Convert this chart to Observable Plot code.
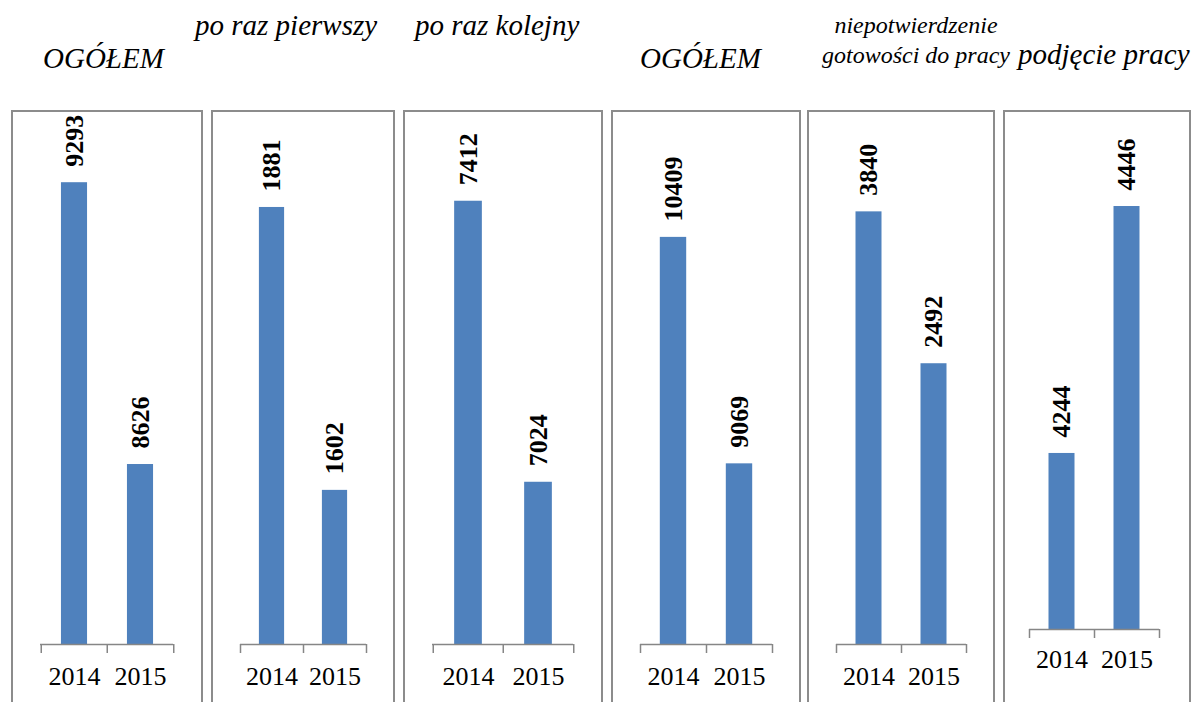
<!DOCTYPE html>
<html><head><meta charset="utf-8">
<script src="https://cdn.jsdelivr.net/npm/d3@7"></script>
<script src="https://cdn.jsdelivr.net/npm/@observablehq/plot@0.6"></script>
<style>
body{margin:0;background:#fff;width:1200px;height:702px;overflow:hidden;position:relative;font-family:'Liberation Serif',serif}
.title{position:absolute;font-style:italic;white-space:nowrap;color:#000;line-height:1;font-family:'Liberation Serif',serif}
.box{position:absolute;box-sizing:border-box;border:2px solid #8c8c8c;pointer-events:none}
</style></head><body>
<script>
// ---- data ----
const titles = ["OGÓŁEM", "po raz pierwszy", "po raz kolejny", "OGÓŁEM", "niepotwierdzenie\ngotowości do pracy", "podjęcie pracy"];
const years = ["2014", "2015"];
const values2014 = [9293, 1881, 7412, 10409, 3840, 4244];
const values2015 = [8626, 1602, 7024, 9069, 2492, 4446];
const axisMin = [8200, 1450, 6800, 8000, 0, 4100];
const axisMax = [9400, 1950, 7500, 11000, 4500, 4500];

// ---- layout ----
const boxLeft  = [11, 211, 403, 611, 807, 1003];
const boxRight = [203, 395, 603, 801, 995, 1191];
const axisLeft  = [40, 240, 432, 640, 836, 1029];
const axisRight = [173, 366, 573, 772, 966, 1159];
const plotTop  = [137, 137, 137, 137, 137, 140];
const baseline = [644, 644, 644, 644, 644, 629];
const labelPad = [22, 22, 22, 22, 22, 20];
const boxTop = 110, svgH = 600;
const serif = "'Liberation Serif', serif";

const titleSpec = [
  {left: 43, base: 68, fs: 29},
  {left: 195, base: 35, fs: 29},
  {left: 415, base: 35, fs: 29},
  {left: 640, base: 68, fs: 29},
  {center: 916, base: 33, fs: 24, lh: 30},
  {left: 1018, base: 64, fs: 29}
];

const blue = "#4F81BD", gray = "#868686";

for (let i = 0; i < 6; i++) {
  const data = years.map((y, j) => ({year: y, value: j === 0 ? values2014[i] : values2015[i]}));
  const W = boxRight[i] - boxLeft[i];
  const mL = axisLeft[i] - boxLeft[i];
  const mR = boxRight[i] - axisRight[i];
  const mT = plotTop[i] - boxTop;
  const mB = svgH - (baseline[i] - boxTop);
  const bw = (W - mL - mR) / 2;
  const ins = bw * 0.3;
  const svg = Plot.plot({
    width: W, height: svgH,
    marginLeft: mL, marginRight: mR, marginTop: mT, marginBottom: mB,
    style: {fontFamily: serif, background: "transparent", overflow: "visible", color: "#000"},
    x: {domain: years, padding: 0, axis: null, label: null},
    y: {domain: [axisMin[i], axisMax[i]], clamp: true, axis: null},
    marks: [
      Plot.barY(data, {x: "year", y: "value", fill: blue, insetLeft: ins, insetRight: ins}),
      Plot.ruleY([axisMin[i]], {stroke: gray, strokeWidth: 1.5}),
      Plot.axisX({tickSize: 9, tickFormat: () => "", dx: -bw / 2, stroke: gray, strokeWidth: 1.5}),
      Plot.axisX({ticks: [years[1]], tickSize: 9, tickFormat: () => "", dx: bw / 2, stroke: gray, strokeWidth: 1.5}),
      Plot.axisX({tickSize: 0, tickPadding: labelPad[i], fontSize: 26, fontFamily: serif, fill: "#000"}),
      Plot.text(data, {x: "year", y: "value", text: d => String(d.value), rotate: -90, textAnchor: "start", lineAnchor: "middle", dy: -16, fontSize: 26, fontFamily: serif, fontWeight: "bold", fill: "#000"})
    ]
  });
  svg.style.position = "absolute";
  svg.style.left = boxLeft[i] + "px";
  svg.style.top = boxTop + "px";
  svg.style.maxWidth = "none";
  document.body.appendChild(svg);

  const box = document.createElement("div");
  box.className = "box";
  box.style.left = boxLeft[i] + "px";
  box.style.top = boxTop + "px";
  box.style.width = W + "px";
  box.style.height = "620px";
  document.body.appendChild(box);

  const t = titleSpec[i];
  const div = document.createElement("div");
  div.className = "title";
  div.style.fontSize = t.fs + "px";
  if (t.lh) {
    div.style.lineHeight = t.lh + "px";
    div.style.textAlign = "center";
    div.style.width = "260px";
    div.style.left = (t.center - 130) + "px";
    div.style.top = (t.base - ((t.lh - 1.107 * t.fs) / 2 + 0.891 * t.fs)) + "px";
    div.innerHTML = titles[i].split("\n").join("<br>");
  } else {
    div.style.left = t.left + "px";
    div.style.top = (t.base - 0.8375 * t.fs) + "px";
    div.textContent = titles[i];
  }
  document.body.appendChild(div);
}
</script>
</body></html>
